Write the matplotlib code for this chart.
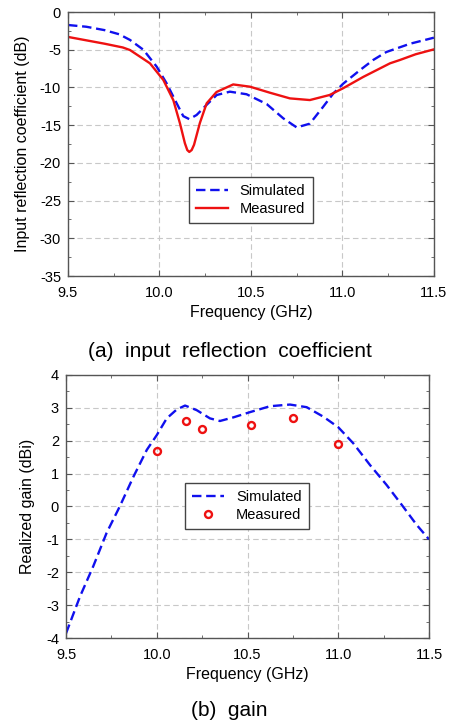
import matplotlib
matplotlib.use("Agg")
import matplotlib.pyplot as plt
from matplotlib.ticker import MultipleLocator, FormatStrFormatter

plt.rcParams['font.family'] = ['Liberation Sans', 'DejaVu Sans']
plt.rcParams['axes.unicode_minus'] = False

# (a) input reflection coefficient
s11_freq_sim = [9.5, 9.6, 9.7, 9.78, 9.839, 9.912, 9.985, 10.039, 10.094, 10.13, 10.163,
                10.203, 10.258, 10.313, 10.385, 10.476, 10.586, 10.677, 10.75, 10.822,
                10.895, 10.95, 11.004, 11.096, 11.168, 11.24, 11.37, 11.5]
s11_sim = [-1.72, -1.95, -2.4, -2.95, -3.7, -5.0, -7.25, -9.45, -12.1, -13.8, -14.2,
           -13.65, -12.3, -11.0, -10.56, -10.9, -12.2, -14.1, -15.3, -14.8,
           -12.55, -10.8, -9.5, -7.7, -6.36, -5.3, -4.2, -3.4]
s11_freq_meas = [9.5, 9.6, 9.7, 9.8, 9.839, 9.948, 10.021, 10.076, 10.112, 10.139, 10.152,
                 10.163, 10.176, 10.189, 10.221, 10.258, 10.312, 10.403, 10.495, 10.604,
                 10.713, 10.822, 10.93, 11.004, 11.114, 11.26, 11.314, 11.4, 11.5]
s11_meas = [-3.3, -3.75, -4.2, -4.7, -5.04, -6.8, -9.0, -11.7, -14.76, -17.4, -18.3,
            -18.55, -18.3, -17.6, -14.7, -12.1, -10.6, -9.6, -9.9, -10.7,
            -11.45, -11.67, -11.0, -10.1, -8.6, -6.8, -6.36, -5.6, -4.95]

# (b) gain
gain_freq_sim = [9.5, 9.577, 9.65, 9.724, 9.797, 9.871, 9.945, 10.0, 10.055, 10.11,
                 10.156, 10.22, 10.293, 10.348, 10.422, 10.514, 10.624, 10.734, 10.826,
                 10.918, 11.0, 11.083, 11.175, 11.267, 11.358, 11.432, 11.5]
gain_sim = [-3.86, -2.74, -1.82, -0.8, 0.01, 0.9, 1.72, 2.17, 2.68, 2.95,
            3.07, 2.93, 2.68, 2.6, 2.71, 2.87, 3.05, 3.1, 3.02,
            2.73, 2.41, 1.92, 1.26, 0.65, -0.01, -0.56, -1.0]
gain_freq_meas = [10.0, 10.16, 10.25, 10.52, 10.75, 11.0]
gain_meas = [1.7, 2.6, 2.36, 2.47, 2.69, 1.9]

fig = plt.figure(figsize=(4.49, 7.25), dpi=100)
ax1 = fig.add_axes([0.1514, 0.6193, 0.815, 0.3641])
ax2 = fig.add_axes([0.147, 0.12, 0.8085, 0.3628])

def style(ax, ymaj, ymin):
    ax.set_xlim(9.5, 11.5)
    ax.xaxis.set_major_locator(MultipleLocator(0.5))
    ax.xaxis.set_minor_locator(MultipleLocator(0.25))
    ax.yaxis.set_major_locator(MultipleLocator(ymaj))
    ax.yaxis.set_minor_locator(MultipleLocator(ymin))
    ax.xaxis.set_major_formatter(FormatStrFormatter('%.1f'))
    ax.yaxis.set_major_formatter(FormatStrFormatter('%g'))
    ax.grid(True, which='major', color='#c8c8c8', linestyle=(0, (5, 3)), linewidth=0.8)
    ax.tick_params(which='both', direction='in', top=True, right=True,
                   labelsize=10.5, color='#555555')
    ax.tick_params(axis='x', which='major', pad=7)
    ax.tick_params(axis='y', which='major', pad=5)
    ax.tick_params(which='major', length=4)
    ax.tick_params(which='minor', length=2.5)
    for s in ax.spines.values():
        s.set_color('#555555')
        s.set_linewidth(1.0)

def add_legend(ax, cx, cy):
    leg = ax.legend(loc='center', bbox_to_anchor=(cx, cy), fancybox=False,
                    edgecolor='#444444', fontsize=10.5, handlelength=2.2,
                    handletextpad=0.8, borderpad=0.5, labelspacing=0.25,
                    framealpha=1, borderaxespad=0)
    leg.get_frame().set_linewidth(1.0)

ax1.plot(s11_freq_sim, s11_sim, color='#1010ee', lw=1.7, ls=(0, (4, 2)), label='Simulated')
ax1.plot(s11_freq_meas, s11_meas, color='#ee1111', lw=1.7, label='Measured')
ax1.set_ylim(-35, 0)
style(ax1, 5, 2.5)
ax1.set_xlabel('Frequency (GHz)', fontsize=11.5, labelpad=4)
ax1.set_ylabel('Input reflection coefficient (dB)', fontsize=11.5, labelpad=7)
add_legend(ax1, 0.499, 0.288)

ax2.plot(gain_freq_sim, gain_sim, color='#1010ee', lw=1.7, ls=(0, (4, 2)), label='Simulated')
ax2.plot(gain_freq_meas, gain_meas, ls='none', marker='o', ms=5, mfc='none',
         mec='#ee1111', mew=1.7, label='Measured')
ax2.set_ylim(-4, 4)
style(ax2, 1, 0.5)
ax2.set_xlabel('Frequency (GHz)', fontsize=11.5, labelpad=4)
ax2.set_ylabel('Realized gain (dBi)', fontsize=11.5, labelpad=8)
add_legend(ax2, 0.498, 0.502)

fig.text(0.511, 1 - 352 / 725, '(a)  input  reflection  coefficient', fontsize=15,
         ha='center', va='center')
fig.text(0.51, 1 - 711 / 725, '(b)  gain', fontsize=15, ha='center', va='center')

fig.savefig('out.png', dpi=100)
